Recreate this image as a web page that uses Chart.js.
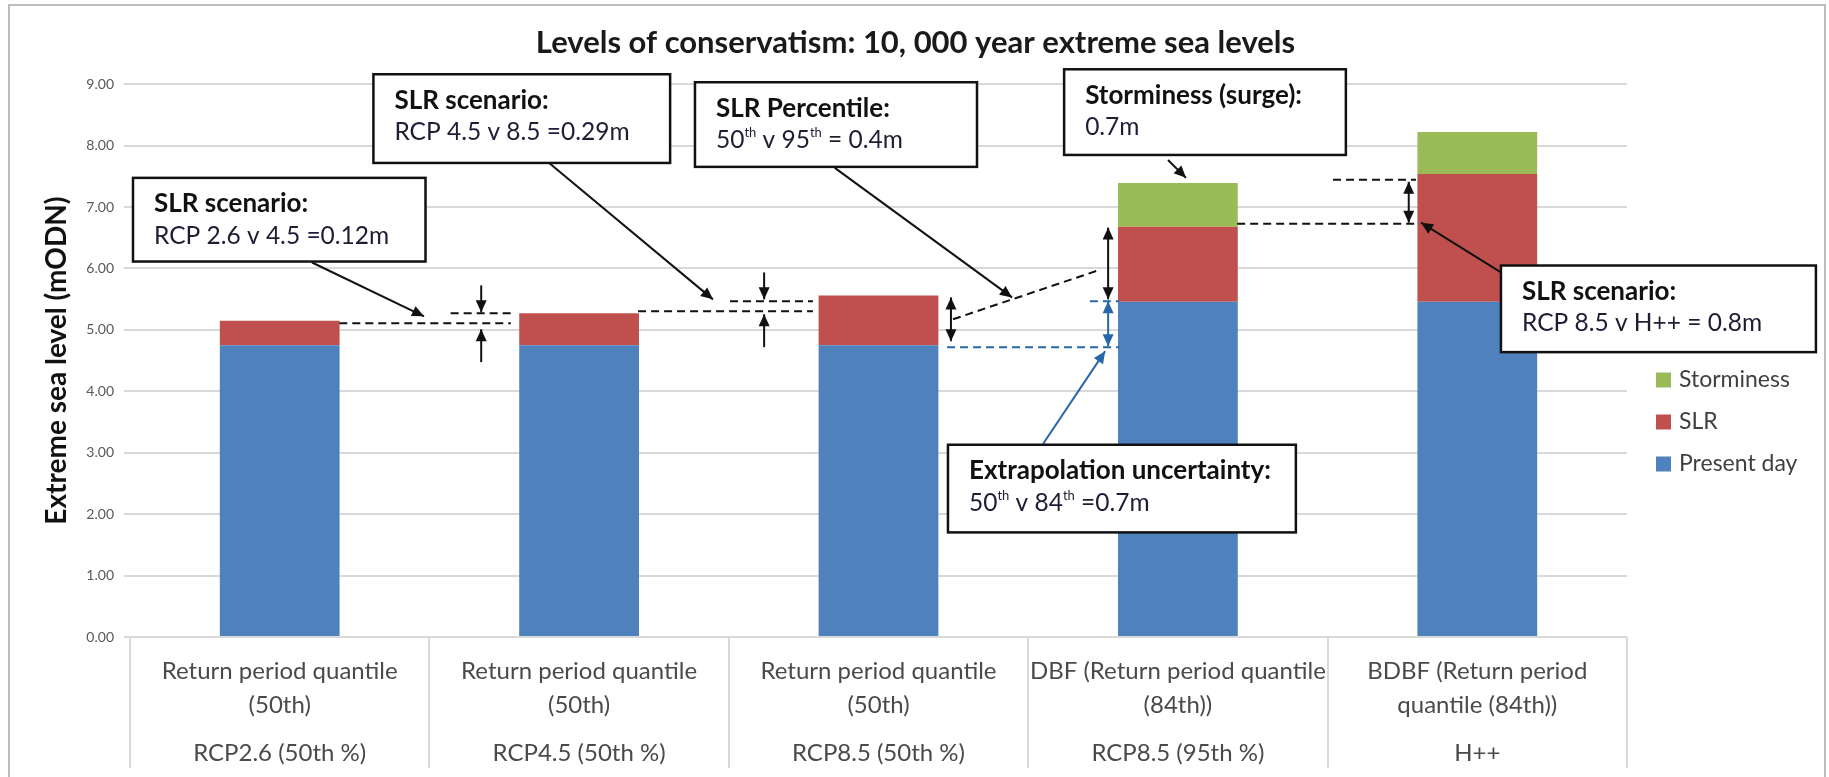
<!DOCTYPE html>
<html>
<head>
<meta charset="utf-8">
<title>Levels of conservatism</title>
<script src="https://cdn.jsdelivr.net/npm/chart.js@4.4.1/dist/chart.umd.min.js"></script>
<style>
  html, body { margin: 0; padding: 0; background: #fff; }
  #wrap { width: 1829px; height: 777px; position: relative; }
</style>
</head>
<body>
<div id="wrap"><canvas id="chart"></canvas></div>
<script>
// --- data ---
const scenarioLabels = [
  ['Return period quantile', '(50th)'],
  ['Return period quantile', '(50th)'],
  ['Return period quantile', '(50th)'],
  ['DBF (Return period quantile', '(84th))'],
  ['BDBF (Return period', 'quantile (84th))'],
];
const slrLabels = ['RCP2.6 (50th %)', 'RCP4.5 (50th %)', 'RCP8.5 (50th %)', 'RCP8.5 (95th %)', 'H++'];

const presentDay = [4.75, 4.75, 4.75, 5.46, 5.46];
const slr        = [0.40, 0.52, 0.81, 1.22, 2.08];
const storminess = [null, null, null, 0.71, 0.68];

const seriesNames  = ['Present day', 'SLR', 'Storminess'];
const seriesColors = ['#4F81BD', '#C0504D', '#9BBB59'];

const yMin = 0, yMax = 9, yStep = 1;

// callouts, in data units (x = category index, y = metres)
const callouts = [
  { box: [-0.490, 7.475, 0.487, 6.113], head: 'SLR scenario:', body: 'RCP 2.6 v 4.5 =0.12m', arrow: [0.108, 6.097, 0.482, 5.221] },
  { box: [0.313, 9.162, 1.304, 7.718], head: 'SLR scenario:', body: 'RCP 4.5 v 8.5 =0.29m', arrow: [0.900, 7.718, 1.447, 5.497] },
  { box: [1.387, 9.032, 2.329, 7.654], head: 'SLR Percentile:', body: '50^th v 95^th = 0.4m', arrow: [1.854, 7.637, 2.446, 5.529] },
  { box: [2.620, 9.243, 3.561, 7.848], head: 'Storminess (surge):', body: '0.7m', arrow: [2.967, 7.767, 3.027, 7.475] },
  { box: [4.079, 6.048, 5.131, 4.638], head: 'SLR scenario:', body: 'RCP 8.5 v H++ = 0.8m', arrow: [4.079, 5.935, 3.812, 6.746] },
  { box: [2.232, 3.130, 3.394, 1.703], head: 'Extrapolation uncertainty:', body: '50^th v 84^th =0.7m', arrow: [2.550, 3.146, 2.757, 4.654], blue: true },
];
const guidesBlack = [
  [0.199, 5.108, 0.772, 5.108], [0.571, 5.270, 0.779, 5.270],
  [1.197, 5.303, 1.781, 5.303], [1.504, 5.465, 1.781, 5.465],
  [2.249, 5.173, 2.743, 5.984],
  [3.198, 6.729, 3.795, 6.729], [3.518, 7.443, 3.795, 7.443],
];
const guidesBlue = [[2.229, 4.719, 2.804, 4.719], [2.706, 5.465, 2.804, 5.465]];
const pointers = [
  [0.673, 5.724, 0.673, 5.286], [0.673, 4.475, 0.673, 5.011],
  [1.618, 5.935, 1.618, 5.497], [1.618, 4.719, 1.618, 5.254],
];
const spans = [
  { p: [2.242, 5.529, 2.242, 4.816] },
  { p: [2.767, 6.665, 2.767, 5.497] },
  { p: [2.767, 5.465, 2.767, 4.735], blue: true },
  { p: [3.771, 7.410, 3.771, 6.746] },
];

const FONT = 'Lato, "Open Sans", sans-serif';
const BLUE = '#2767A8';

function arrowHead(ctx, x1, y1, x2, y2, color) {
  const a = Math.atan2(y2 - y1, x2 - x1);
  const len = 12, w = 5.5;
  ctx.fillStyle = color;
  ctx.beginPath();
  ctx.moveTo(x2, y2);
  ctx.lineTo(x2 - len * Math.cos(a) + w * Math.sin(a), y2 - len * Math.sin(a) - w * Math.cos(a));
  ctx.lineTo(x2 - len * Math.cos(a) - w * Math.sin(a), y2 - len * Math.sin(a) + w * Math.cos(a));
  ctx.closePath();
  ctx.fill();
}

function arrow(ctx, x1, y1, x2, y2, color, both) {
  ctx.strokeStyle = color;
  ctx.lineWidth = 2;
  ctx.setLineDash([]);
  ctx.beginPath();
  ctx.moveTo(x1, y1);
  ctx.lineTo(x2, y2);
  ctx.stroke();
  arrowHead(ctx, x1, y1, x2, y2, color);
  if (both) arrowHead(ctx, x2, y2, x1, y1, color);
}

function richText(ctx, str, x, y, size) {
  const parts = str.split(/\^(\w+)/);
  let cx = x;
  parts.forEach((p, i) => {
    if (!p) return;
    const sup = i % 2 === 1;
    ctx.font = `${sup ? Math.round(size * 0.55) : size}px ${FONT}`;
    ctx.fillText(p, cx, sup ? y - size * 0.3 : y);
    cx += ctx.measureText(p).width;
  });
}

const overlay = {
  id: 'overlay',
  beforeDraw(chart) {
    const ctx = chart.ctx;
    ctx.save();
    ctx.fillStyle = '#fff';
    ctx.fillRect(0, 0, chart.width, chart.height);
    ctx.strokeStyle = '#BDBDBD';
    ctx.lineWidth = 2;
    ctx.strokeRect(9, 5, chart.width - 13, chart.height + 20);
    ctx.restore();
  },
  afterDraw(chart) {
    const { ctx, scales: { x, y }, chartArea } = chart;
    const px = u => x.getPixelForValue(u);
    const py = v => y.getPixelForValue(v);
    ctx.save();

    // category dividers under the axis
    ctx.strokeStyle = '#D9D9D9';
    ctx.lineWidth = 2;
    for (let i = 0; i <= scenarioLabels.length; i++) {
      const xx = Math.round(px(i - 0.5));
      ctx.beginPath();
      ctx.moveTo(xx, chartArea.bottom);
      ctx.lineTo(xx, chart.height - 9);
      ctx.stroke();
    }

    // dashed guides
    ctx.lineWidth = 2;
    ctx.setLineDash([8, 5]);
    [[guidesBlack, '#111'], [guidesBlue, BLUE]].forEach(([list, col]) => {
      ctx.strokeStyle = col;
      list.forEach(g => {
        ctx.beginPath();
        ctx.moveTo(px(g[0]), py(g[1]));
        ctx.lineTo(px(g[2]), py(g[3]));
        ctx.stroke();
      });
    });
    ctx.setLineDash([]);

    pointers.forEach(p => arrow(ctx, px(p[0]), py(p[1]), px(p[2]), py(p[3]), '#111', false));
    spans.forEach(s => arrow(ctx, px(s.p[0]), py(s.p[1]), px(s.p[2]), py(s.p[3]), s.blue ? BLUE : '#111', true));

    // callout boxes
    ctx.textBaseline = 'middle';
    ctx.textAlign = 'left';
    callouts.forEach(c => {
      const a = c.arrow;
      arrow(ctx, px(a[0]), py(a[1]), px(a[2]), py(a[3]), c.blue ? BLUE : '#111', false);
      const bx = px(c.box[0]), by = py(c.box[1]);
      const bw = px(c.box[2]) - bx, bh = py(c.box[3]) - by;
      ctx.fillStyle = '#fff';
      ctx.fillRect(bx, by, bw, bh);
      ctx.strokeStyle = '#111';
      ctx.lineWidth = 2.5;
      ctx.strokeRect(bx, by, bw, bh);
      ctx.fillStyle = '#111';
      ctx.font = `bold 26px ${FONT}`;
      ctx.fillText(c.head, bx + 21, by + 26);
      ctx.fillStyle = '#1d1d33';
      richText(ctx, c.body, bx + 21, by + 58, 24.5);
    });

    // legend (top item = last series)
    const lx = chartArea.right + 29;
    const ly = [380, 422, 464];
    seriesNames.slice().reverse().forEach((name, i) => {
      ctx.fillStyle = seriesColors[seriesNames.length - 1 - i];
      ctx.fillRect(lx, ly[i] - 7.5, 15, 15);
      ctx.fillStyle = '#404040';
      ctx.font = `23px ${FONT}`;
      ctx.fillText(name, lx + 23, ly[i]);
    });
    ctx.restore();
  }
};

const datasets = [presentDay, slr, storminess].map((d, i) => ({
  label: seriesNames[i],
  data: d,
  backgroundColor: seriesColors[i],
  borderWidth: 0,
  barPercentage: 0.4,
  categoryPercentage: 1.0,
}));

const tickFont = { family: FONT, size: 24 };

new Chart(document.getElementById('chart'), {
  type: 'bar',
  data: { labels: scenarioLabels, datasets },
  options: {
    responsive: true,
    maintainAspectRatio: false,
    animation: false,
    layout: { padding: { left: 14, right: 12, top: 0, bottom: 10 } },
    plugins: {
      legend: { display: false },
      tooltip: { enabled: false },
      title: {
        display: true,
        text: 'Levels of conservatism: 10, 000 year extreme sea levels',
        color: '#1a1a1a',
        font: { family: FONT, size: 31, weight: 'bold' },
        padding: { top: 24, bottom: 23 },
      },
    },
    scales: {
      x: {
        stacked: true,
        weight: 0,
        grid: { display: false, drawTicks: false },
        border: { display: false },
        ticks: {
          color: '#4a4a4a', maxRotation: 0, minRotation: 0, autoSkip: false, padding: 17,
          font: { ...tickFont, lineHeight: 34 / 24 },
        },
      },
      x2: {
        type: 'category',
        labels: slrLabels,
        position: 'bottom',
        weight: 1,
        offset: true,
        grid: { display: false, drawTicks: false, offset: true },
        border: { display: false },
        ticks: {
          color: '#4a4a4a', maxRotation: 0, minRotation: 0, autoSkip: false, padding: 2,
          font: { ...tickFont, lineHeight: 1 },
        },
      },
      y: {
        stacked: true,
        min: yMin,
        max: yMax,
        afterFit(scale) { scale.width = 116; },
        grid: { color: '#D9D9D9', lineWidth: 2, tickLength: 6 },
        border: { display: false },
        ticks: {
          stepSize: yStep, padding: 10, color: '#595959',
          font: { family: FONT, size: 14 },
          callback: v => Number(v).toFixed(2),
        },
        title: {
          display: true,
          text: 'Extreme sea level (mODN)',
          color: '#111',
          font: { family: FONT, size: 28, weight: 'bold' },
          padding: { top: 26, bottom: 0 },
        },
      },
      // empty right-hand strip that holds the legend
      yR: {
        type: 'linear',
        position: 'right',
        display: true,
        min: yMin,
        max: yMax,
        afterFit(scale) { scale.width = 190; },
        grid: { display: false, drawTicks: false },
        border: { display: false },
        ticks: { display: false },
      },
    },
  },
  plugins: [overlay],
});
</script>
</body>
</html>
